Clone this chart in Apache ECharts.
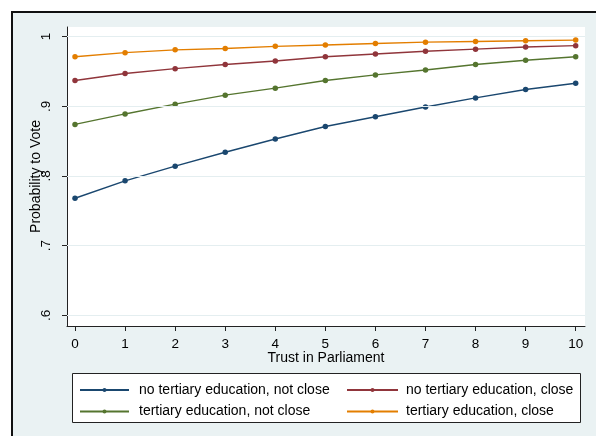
<!DOCTYPE html>
<html>
<head>
<meta charset="utf-8">
<script src="https://cdn.jsdelivr.net/npm/echarts@6/dist/echarts.min.js"></script>
<style>
  html, body { margin: 0; padding: 0; background: #ffffff; }
  #chart { width: 596px; height: 436px; }
</style>
</head>
<body>
<div id="chart"></div>
<script>
// Trust in parliament (0-10)
var trustLevels = [0, 1, 2, 3, 4, 5, 6, 7, 8, 9, 10];

// Predicted probability to vote, by education and party closeness
var noTertiaryNotClose = [0.768, 0.793, 0.814, 0.834, 0.853, 0.871, 0.885, 0.899, 0.912, 0.924, 0.933];
var noTertiaryClose    = [0.937, 0.947, 0.954, 0.960, 0.965, 0.971, 0.975, 0.979, 0.982, 0.985, 0.987];
var tertiaryNotClose   = [0.874, 0.889, 0.903, 0.916, 0.926, 0.937, 0.945, 0.952, 0.960, 0.966, 0.971];
var tertiaryClose      = [0.971, 0.977, 0.981, 0.983, 0.986, 0.988, 0.990, 0.992, 0.993, 0.994, 0.995];

var seriesNames = [
  'no tertiary education, not close',
  'no tertiary education, close',
  'tertiary education, not close',
  'tertiary education, close'
];
var seriesColors = ['#1A476F', '#90353B', '#55752F', '#E37E00'];

// Axis ticks
var yTickValues = [0.6, 0.7, 0.8, 0.9, 1.0];
var yTickLabels = ['.6', '.7', '.8', '.9', '1'];
var xTickValues = trustLevels;

var font = '"Liberation Sans", Arial, sans-serif';
var ink = '#000000';

function pairs(values) {
  return trustLevels.map(function (t, i) { return [t, values[i]]; });
}

function lineSeries(name, values, color) {
  return {
    name: name,
    type: 'line',
    data: pairs(values),
    symbol: 'circle',
    symbolSize: 5.5,
    color: color,
    lineStyle: { width: 1.4, color: color },
    itemStyle: { color: color },
    z: 3,
    silent: true,
    animation: false
  };
}

var chart = echarts.init(document.getElementById('chart'), null, { renderer: 'canvas' });

chart.setOption({
  backgroundColor: '#ffffff',
  animation: false,
  textStyle: { fontFamily: font },
  graphic: [
    {
      type: 'rect',
      z: -10,
      shape: { x: 12, y: 12, width: 800, height: 700 },
      style: { fill: '#EAF2F3', stroke: '#111111', lineWidth: 2 }
    },
    {
      type: 'rect',
      z: 5,
      shape: { x: 72.5, y: 373.5, width: 508, height: 49 },
      style: { fill: '#ffffff', stroke: '#222222', lineWidth: 1 }
    }
  ],
  grid: {
    left: 67, right: 11, top: 27, bottom: 110,
    show: true, backgroundColor: '#ffffff', borderWidth: 0
  },
  xAxis: {
    type: 'value',
    min: -0.16,
    max: 10.186,
    name: 'Trust in Parliament',
    nameLocation: 'middle',
    nameGap: 25,
    nameMoveOverlap: false,
    nameTextStyle: { color: ink, fontSize: 14, fontFamily: font, verticalAlign: 'top' },
    axisLine: { show: true, onZero: false, lineStyle: { color: '#222222', width: 1 } },
    axisTick: { show: true, length: 5, customValues: xTickValues, lineStyle: { color: '#222222' } },
    axisLabel: {
      customValues: xTickValues,
      margin: 11,
      color: ink, fontSize: 13.5, fontFamily: font,
      formatter: function (v) { return String(Math.round(v)); }
    },
    splitLine: { show: false }
  },
  yAxis: {
    type: 'value',
    min: 0.58464,
    max: 1.01378,
    name: 'Probability to Vote',
    nameLocation: 'middle',
    nameGap: 24,
    nameMoveOverlap: false,
    nameTextStyle: { color: ink, fontSize: 14, fontFamily: font },
    axisLine: { show: true, onZero: false, lineStyle: { color: '#222222', width: 1 } },
    axisTick: { show: true, length: 5, customValues: yTickValues, lineStyle: { color: '#222222' } },
    axisLabel: {
      customValues: yTickValues,
      rotate: 90,
      margin: 14,
      color: ink, fontSize: 13.5, fontFamily: font,
      formatter: function (v) {
        for (var i = 0; i < yTickValues.length; i++) {
          if (Math.abs(yTickValues[i] - v) < 1e-6) return yTickLabels[i];
        }
        return '';
      }
    },
    splitLine: { show: false }
  },
  legend: [
    {
      data: [seriesNames[0], seriesNames[2]],
      orient: 'vertical',
      left: 79, top: 383, padding: 0,
      itemWidth: 49, itemHeight: 5, itemGap: 7.4,
      textStyle: { color: ink, fontSize: 14, fontFamily: font, padding: [0, 0, 0, 5] },
      z: 6
    },
    {
      data: [seriesNames[1], seriesNames[3]],
      orient: 'vertical',
      left: 346, top: 383, padding: 0,
      itemWidth: 51, itemHeight: 5, itemGap: 7.4,
      textStyle: { color: ink, fontSize: 14, fontFamily: font, padding: [0, 0, 0, 3] },
      z: 6
    }
  ],
  series: [
    {
      name: 'gridlines',
      type: 'line',
      data: [],
      z: 1,
      silent: true,
      markLine: {
        silent: true,
        symbol: 'none',
        label: { show: false },
        lineStyle: { color: '#E4EEF0', width: 1.2, type: 'solid' },
        data: yTickValues.map(function (v) { return { yAxis: v }; }),
        animation: false
      }
    },
    lineSeries(seriesNames[0], noTertiaryNotClose, seriesColors[0]),
    lineSeries(seriesNames[1], noTertiaryClose, seriesColors[1]),
    lineSeries(seriesNames[2], tertiaryNotClose, seriesColors[2]),
    lineSeries(seriesNames[3], tertiaryClose, seriesColors[3])
  ]
});
</script>
</body>
</html>
